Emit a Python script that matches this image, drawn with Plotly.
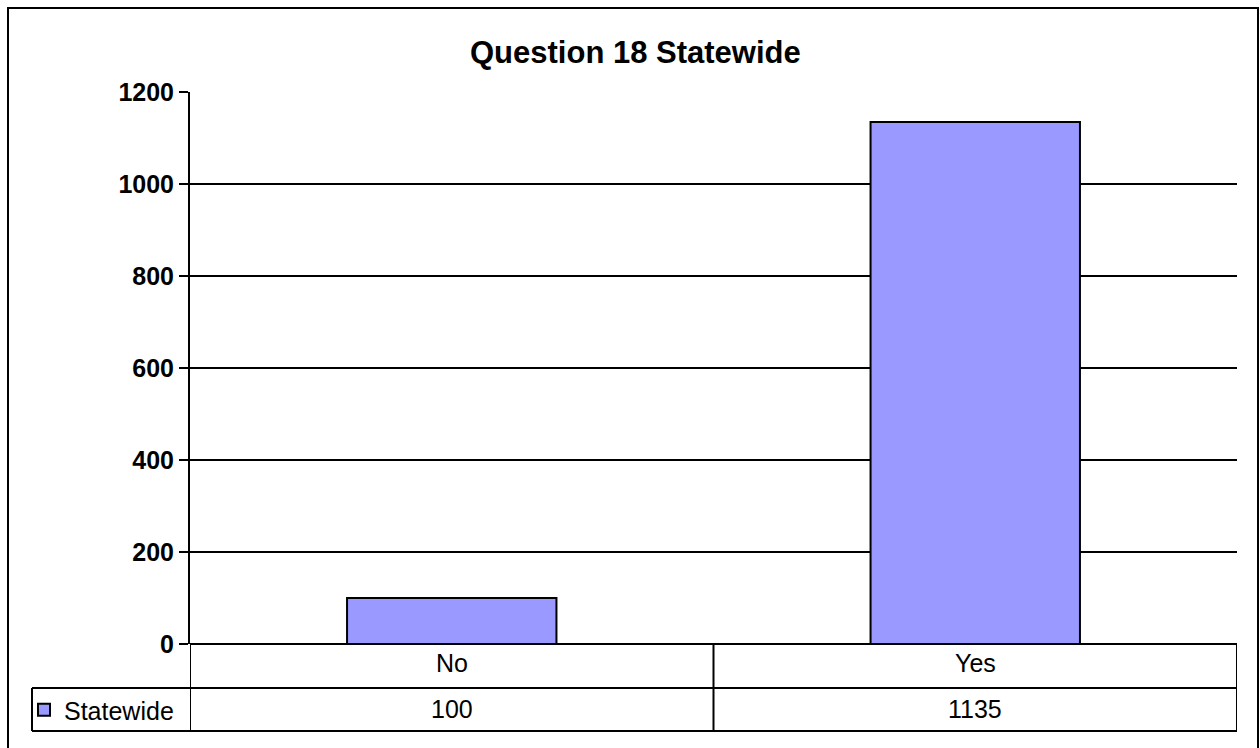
import plotly.graph_objects as go

categories = ["No", "Yes"]
values = [100, 1135]
series_name = "Statewide"
title_text = "Question 18 Statewide"
y_ticks = [0, 200, 400, 600, 800, 1000, 1200]

W, H = 1260, 748
FONT = "Arial, 'Liberation Sans', sans-serif"

def px_x(p):
    return p / W

def px_y(p):
    return 1 - p / H

x0p, x1p = 190, 1237
y_top, y_zero = 92, 644
row1_bot, row2_bot = 688, 731
legend_left = 32

fig = go.Figure()
fig.add_trace(go.Bar(
    x=categories, y=values, name=series_name,
    width=0.4,
    marker=dict(color="#9999FF", line=dict(color="black", width=2)),
    showlegend=True,
))

shapes = []
shapes.append(dict(type="rect", xref="paper", yref="paper",
                   x0=px_x(8), x1=px_x(1258), y0=px_y(770), y1=px_y(8),
                   line=dict(color="black", width=2), layer="below"))
for xv in [-0.5, 0.5, 1.5]:
    shapes.append(dict(type="line", xref="x", yref="paper",
                       x0=xv, x1=xv, y0=px_y(row2_bot), y1=px_y(y_zero),
                       line=dict(color="black", width=2)))
shapes.append(dict(type="line", xref="paper", yref="paper",
                   x0=px_x(legend_left), x1=px_x(legend_left),
                   y0=px_y(row2_bot), y1=px_y(row1_bot),
                   line=dict(color="black", width=2)))
shapes.append(dict(type="line", xref="paper", yref="paper",
                   x0=px_x(x0p), x1=px_x(x1p), y0=px_y(y_zero), y1=px_y(y_zero),
                   line=dict(color="black", width=2)))
for yy in [row1_bot, row2_bot]:
    shapes.append(dict(type="line", xref="paper", yref="paper",
                       x0=px_x(legend_left), x1=px_x(x1p), y0=px_y(yy), y1=px_y(yy),
                       line=dict(color="black", width=2)))

annotations = []
annotations.append(dict(text=f"<b>{title_text}</b>", xref="paper", yref="paper",
                        x=px_x(635), y=px_y(53), showarrow=False,
                        xanchor="center", yanchor="middle",
                        font=dict(family=FONT, size=31, color="black")))
for c, v in zip(categories, values):
    annotations.append(dict(text=c, xref="x", yref="paper", x=c,
                            y=px_y(663), showarrow=False,
                            xanchor="center", yanchor="middle",
                            font=dict(family=FONT, size=25, color="black")))
    annotations.append(dict(text=str(v), xref="x", yref="paper", x=c,
                            y=px_y(709), showarrow=False,
                            xanchor="center", yanchor="middle",
                            font=dict(family=FONT, size=25, color="black")))

fig.update_layout(
    width=W, height=H,
    margin=dict(l=0, r=0, t=0, b=0, pad=0, autoexpand=False),
    paper_bgcolor="white", plot_bgcolor="white",
    font=dict(family=FONT, color="black"),
    xaxis=dict(domain=[px_x(x0p), px_x(x1p)], range=[-0.5, 1.5],
               showticklabels=False, showgrid=False, zeroline=False,
               showline=False, ticks="", automargin=False),
    yaxis=dict(domain=[px_y(y_zero), px_y(y_top)], range=[0, 1200],
               tickvals=y_ticks, ticktext=[f"<b>{t}</b>" for t in y_ticks],
               tickfont=dict(family=FONT, size=25, color="black"),
               showgrid=True, gridcolor="black", gridwidth=2,
               zeroline=False, showline=True, linecolor="black", linewidth=2,
               ticks="outside", ticklen=9, tickwidth=2, tickcolor="black",
               automargin=False),
    showlegend=True,
    legend=dict(x=px_x(24), y=px_y(710),
                xanchor="left", yanchor="middle",
                font=dict(family=FONT, size=25, color="black"),
                bgcolor="rgba(0,0,0,0)", borderwidth=0),
    shapes=shapes,
    annotations=annotations,
)

fig.write_html("out.html",
               config={"displayModeBar": False},
               post_script="document.body.style.margin='0';document.body.style.overflow='hidden';")
